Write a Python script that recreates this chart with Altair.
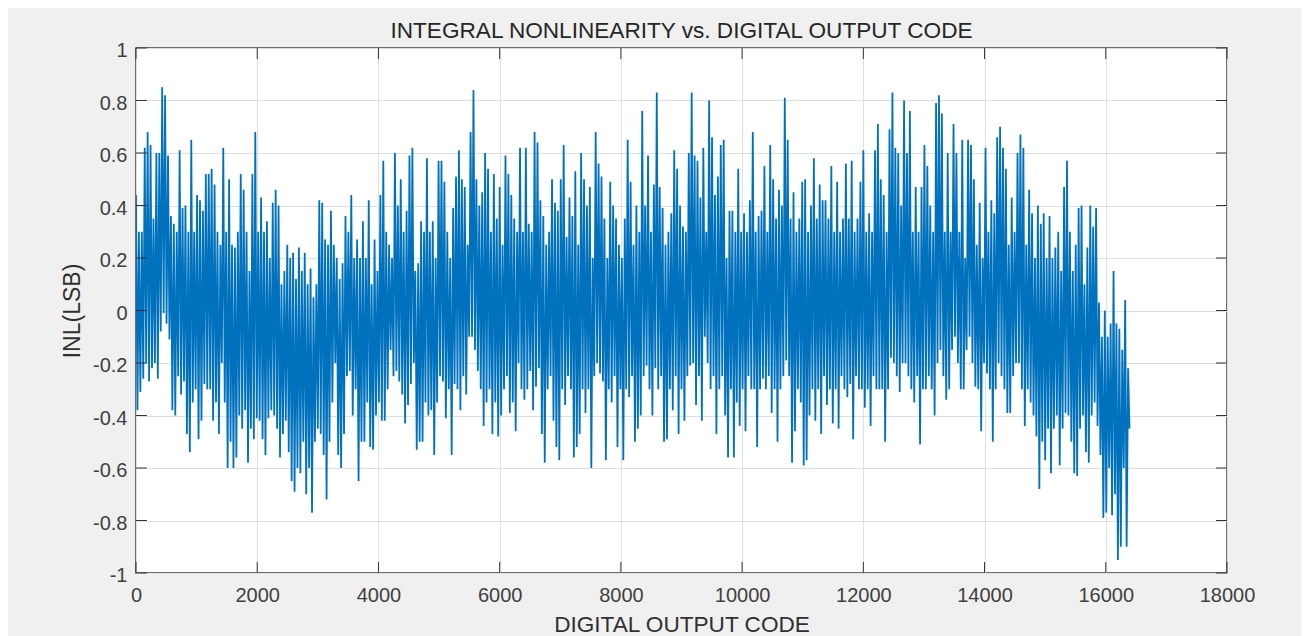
import altair as alt
import pandas as pd

title_text = "INTEGRAL NONLINEARITY vs. DIGITAL OUTPUT CODE"
x_title = "DIGITAL OUTPUT CODE"
y_title = "INL(LSB)"
x_ticks = [0, 2000, 4000, 6000, 8000, 10000, 12000, 14000, 16000, 18000]
y_ticks = [-1, -0.8, -0.6, -0.4, -0.2, 0, 0.2, 0.4, 0.6, 0.8, 1]
code_step = 24

hi_a = [.44,.3,.3,.62,.68,.63,.35,.6,.6,.85,.82,.59,.36,.33,.3,.61,.39,.4,.3,.65,.3,.44,.42,.38,.52,.52,.54,.48,.3,.25,.62,.3,.5,.25,.24,.3,.52,.46,.3,.15,.52,.68,.3,.43,.3,.34,.2,.41,.46,.4,.1,.15,.25,.2,.22,.12,.24,.15,.22,.1,.16,.05,.1,.42,.41,.27,.25]
lo_a = [-.38,-.31,-.26,-.2,-.27,-.22,-.2,-.26,-.08,-.01,-.05,-.11,-.38,-.4,-.25,-.32,-.27,-.47,-.54,-.35,-.3,-.49,-.42,-.28,-.3,-.3,-.42,-.35,-.47,-.2,-.35,-.6,-.5,-.6,-.56,-.4,-.45,-.38,-.58,-.45,-.49,-.41,-.42,-.49,-.55,-.41,-.38,-.4,-.45,-.56,-.47,-.42,-.54,-.65,-.69,-.6,-.62,-.5,-.7,-.6,-.77,-.5,-.45,-.47,-.55,-.72,-.5]

hi_b = [.38,.25,.2,.12,.18,.36,.3,.44,.2,.27,.2,.34,.2,.42,.1,.27,.15,.44,.57,.3,.25,.2,.6,.4,.5,.3,.38,.59,.62,.15,.18,.34,.3,.58,.3,.34,.2,.57,.57,.49,.3,.2,.39,.51,.61,.5,.47,.25,.68,.84,.5,.4,.45,.6,.54,.3,.52,.35,.47,.25,.59,.52,.44,.35,.3,.62,.3,.62,.33]
lo_b = [-.35,-.2,-.55,-.6,-.47,-.25,-.23,-.4,-.3,-.65,-.5,-.5,-.35,-.52,-.53,-.4,-.35,-.42,-.42,-.3,-.15,-.25,-.23,-.27,-.32,-.43,-.36,-.28,-.2,-.53,-.5,-.5,-.35,-.4,-.38,-.55,-.35,-.25,-.27,-.41,-.3,-.55,-.28,-.3,-.38,-.25,-.32,-.1,-.1,-.15,-.23,-.3,-.44,-.35,-.3,-.47,-.35,-.48,-.4,-.3,-.25,-.39,-.35,-.46,-.2,-.3,-.34,-.3,-.23]

hi_c = [.3,.68,.64,.42,.36,.25,.3,.5,.41,.38,.5,.63,.28,.43,.36,.53,.25,.6,.5,.4,.47,.2,.68,.56,.51,.35,.2,.49,.4,.35,.25,.2,.35,.65,.49,.25,.4,.3,.76,.4,.59,.3,.48,.83,.47,.39,.25,.3,.37,.61,.54,.4,.32,.3,.6,.83,.59,.57,.43,.62,.3,.8,.66,.44,.51,.63,.65,.2,.38]
lo_c = [-.38,-.29,-.22,-.47,-.58,-.3,-.25,-.42,-.52,-.57,-.3,-.36,-.25,-.3,-.56,-.52,-.47,-.3,-.39,-.3,-.6,-.25,-.2,-.24,-.27,-.57,-.3,-.35,-.25,-.52,-.3,-.57,-.3,-.33,-.25,-.5,-.45,-.4,-.25,-.21,-.3,-.4,-.22,-.3,-.25,-.5,-.49,-.3,-.38,-.25,-.47,-.3,-.42,-.25,-.21,-.2,-.36,-.25,-.42,-.1,-.2,-.3,-.25,-.47,-.3,-.25,-.4,-.56,-.3]

hi_d = [.38,.3,.54,.3,.37,.3,.42,.68,.3,.36,.38,.55,.3,.63,.5,.35,.46,.4,.81,.65,.35,.45,.3,.35,.49,.5,.3,.4,.58,.35,.48,.42,.42,.35,.55,.3,.49,.3,.35,.56,.35,.57,.3,.35,.49,.61,.3,.37,.3,.61,.71,.5,.44,.3,.69,.83,.62,.6,.4,.8,.6,.76,.3,.47,.3,.47,.63,.55,.4]
lo_d = [-.56,-.35,-.44,-.3,-.46,-.25,-.3,-.3,-.52,-.3,-.26,-.3,-.25,-.39,-.3,-.5,-.3,-.25,-.19,-.25,-.58,-.46,-.3,-.35,-.59,-.57,-.4,-.3,-.42,-.3,-.47,-.25,-.36,-.3,-.43,-.3,-.45,-.25,-.3,-.33,-.28,-.49,-.25,-.3,-.3,-.37,-.3,-.44,-.25,-.3,-.3,-.3,-.5,-.3,-.18,-.2,-.25,-.31,-.2,-.2,-.25,-.3,-.35,-.25,-.51,-.3,-.3,-.25,-.3]

hi_e = [.3,.79,.82,.75,.3,.6,.3,.71,.6,.3,.65,.2,.65,.63,.5,.25,.41,.2,.62,.3,.42,.37,.66,.7,.62,.54,.25,.43,.3,.6,.67,.62,.25,.46,.37,.2,.4,.33,.37,.2,.36,.2,.24,.3,.15,.47,.57,.3,.15,.25,.39,.4,.1,.24,.4,.32,.39,.03,-.1,0,-.1,-.05,.15,-.05,-.07,-.15,.04,-.22]
lo_e = [-.4,-.2,-.15,-.25,-.34,-.3,-.15,-.1,-.2,-.3,-.3,-.15,-.1,-.2,-.29,-.3,-.46,-.2,-.24,-.3,-.5,-.3,-.2,-.25,-.3,-.39,-.39,-.25,-.2,-.2,-.3,-.44,-.3,-.35,-.4,-.48,-.68,-.5,-.57,-.45,-.62,-.45,-.4,-.59,-.45,-.39,-.4,-.5,-.62,-.63,-.45,-.4,-.54,-.58,-.4,-.35,-.44,-.55,-.79,-.77,-.6,-.78,-.7,-.95,-.9,-.6,-.9,-.45]

hi = hi_a + hi_b + hi_c + hi_d + hi_e
lo = lo_a + lo_b + lo_c + lo_d + lo_e
inl = []
for a, b in zip(hi, lo):
    inl.extend([a, b])
codes = [code_step * i for i in range(len(inl))]

line_df = pd.DataFrame({"code": codes, "inl": inl})
x_scale = alt.Scale(domain=[0, 18000], nice=False, zero=False)
y_scale = alt.Scale(domain=[-1, 1], nice=False, zero=False)
FONT = "Liberation Sans"
TXT = "#404040"

line = alt.Chart(line_df).mark_line(color="#0072BD", strokeWidth=1.8, strokeJoin="bevel", clip=True).encode(
    x=alt.X("code:Q", scale=x_scale, axis=alt.Axis(
        values=x_ticks, title=x_title, format="d", grid=True, gridColor="#dfdfdf", gridWidth=1,
        domain=False, ticks=False, labelFlush=False, labelPadding=12, labelFontSize=20, labelColor=TXT, labelFont=FONT,
        titleFont=FONT, titleFontSize=22.6, titleFontWeight="normal", titleColor="#303030",
        titleY=58, titleBaseline="alphabetic")),
    y=alt.Y("inl:Q", scale=y_scale, axis=alt.Axis(
        values=y_ticks, title=y_title, grid=True, gridColor="#dfdfdf", gridWidth=1,
        domain=False, ticks=False, labelFlush=False, labelPadding=9, labelFontSize=20, labelColor=TXT, labelFont=FONT,
        labelOffset=2.5, labelExpr="datum.value",
        titleFont=FONT, titleFontSize=23, titleFontWeight="normal", titleColor="#303030",
        titleX=-64, titleBaseline="middle")),
)

TICK = "#333333"
xb = pd.DataFrame({"x": x_ticks, "a": [-1] * len(x_ticks), "b": [-0.958] * len(x_ticks)})
xt = pd.DataFrame({"x": x_ticks, "a": [0.958] * len(x_ticks), "b": [1] * len(x_ticks)})
yl = pd.DataFrame({"y": y_ticks, "a": [0] * len(y_ticks), "b": [180] * len(y_ticks)})
yr = pd.DataFrame({"y": y_ticks, "a": [17820] * len(y_ticks), "b": [18000] * len(y_ticks)})


def xtick(df):
    return alt.Chart(df).mark_rule(color=TICK, strokeWidth=1).encode(
        x=alt.X("x:Q", scale=x_scale), y=alt.Y("a:Q", scale=y_scale), y2="b:Q")


def ytick(df):
    return alt.Chart(df).mark_rule(color=TICK, strokeWidth=1).encode(
        y=alt.Y("y:Q", scale=y_scale), x=alt.X("a:Q", scale=x_scale), x2="b:Q")


chart = alt.layer(line, xtick(xb), xtick(xt), ytick(yl), ytick(yr)).properties(
    width=1091, height=525,
    title=alt.TitleParams(title_text, font=FONT, fontSize=22.6, fontWeight="normal", color="#262626",
                          anchor="middle", offset=0, dy=2),
    background="#f0f0f0",
    padding={"left": 128, "top": 40, "right": 74, "bottom": 63},
    autosize=alt.AutoSizeParams(type="none"),
).configure_view(stroke="#404040", strokeWidth=1.5, fill="#ffffff")

chart.save("out.html", embed_options={"renderer": "svg", "actions": False})
